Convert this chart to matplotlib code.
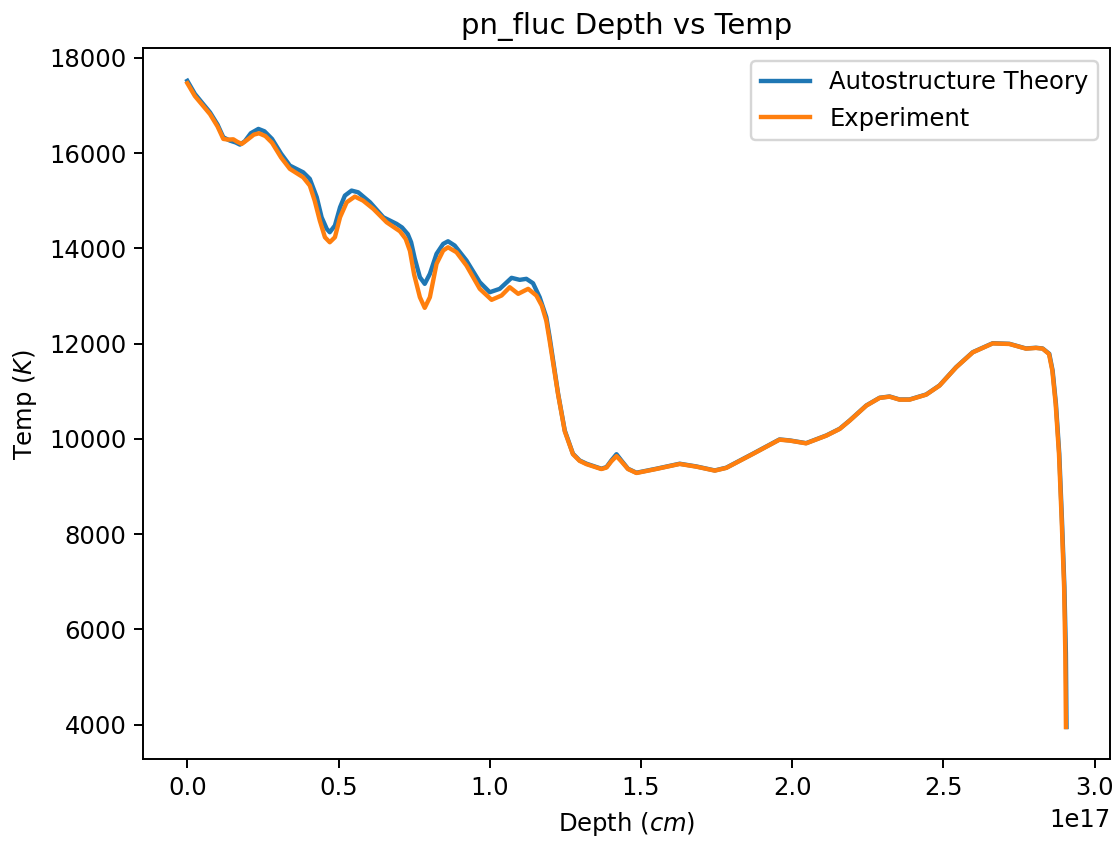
import matplotlib
matplotlib.use('Agg')
import matplotlib.pyplot as plt
import numpy as np

# Depth (units of 1e17 cm) and temperature (K)
theory_depth = [0.000, 0.025, 0.050, 0.075, 0.100, 0.119, 0.141, 0.160, 0.174,
                0.190, 0.210, 0.235, 0.255, 0.280, 0.310, 0.339, 0.383, 0.405,
                0.428, 0.444, 0.461, 0.471, 0.488, 0.505, 0.521, 0.543, 0.565,
                0.604, 0.648, 0.692, 0.710, 0.729, 0.740, 0.752, 0.769, 0.785,
                0.802, 0.824, 0.846, 0.862, 0.884, 0.923, 0.967, 1.000, 1.033,
                1.072, 1.099, 1.121, 1.143, 1.165, 1.187, 1.198, 1.226, 1.248,
                1.275, 1.297, 1.320, 1.369, 1.386, 1.402, 1.419, 1.435, 1.457,
                1.485, 1.551, 1.628, 1.683, 1.744, 1.782, 1.870, 1.958, 1.992,
                2.046, 2.113, 2.157, 2.190, 2.245, 2.289, 2.322, 2.355, 2.388,
                2.443, 2.487, 2.542, 2.597, 2.663, 2.718, 2.773, 2.806, 2.828,
                2.850, 2.861, 2.872, 2.883, 2.892, 2.900, 2.905, 2.907]
theory_temp = [17520, 17245, 17050, 16858, 16600, 16334, 16264, 16225, 16180,
               16250, 16420, 16510, 16460, 16300, 15990, 15740, 15599, 15461,
               15075, 14655, 14411, 14340, 14481, 14865, 15110, 15215, 15179,
               14970, 14655, 14516, 14440, 14300, 14130, 13790, 13396, 13257,
               13467, 13887, 14096, 14151, 14061, 13746, 13291, 13081, 13152,
               13383, 13341, 13362, 13270, 12976, 12556, 12136, 10949, 10178,
               9690, 9549, 9480, 9375, 9410, 9549, 9680, 9549, 9375,
               9291, 9375, 9480, 9423, 9339, 9396, 9690, 9990, 9969,
               9912, 10074, 10214, 10388, 10703, 10865, 10892, 10829, 10829,
               10934, 11123, 11507, 11822, 12010, 11998, 11900, 11915, 11900,
               11788, 11437, 10739, 9690, 8289, 6890, 5492, 3952]

exp_depth = [0.000, 0.025, 0.050, 0.075, 0.100, 0.119, 0.135, 0.152, 0.165,
             0.180, 0.200, 0.220, 0.237, 0.258, 0.280, 0.310, 0.339, 0.383,
             0.405, 0.421, 0.438, 0.455, 0.471, 0.488, 0.505, 0.527, 0.554,
             0.581, 0.615, 0.659, 0.703, 0.722, 0.736, 0.750, 0.769, 0.785,
             0.802, 0.824, 0.846, 0.862, 0.890, 0.923, 0.967, 1.006, 1.039,
             1.066, 1.094, 1.127, 1.154, 1.172, 1.187, 1.198, 1.226, 1.248,
             1.275, 1.297, 1.320, 1.369, 1.386, 1.402, 1.419, 1.435, 1.457,
             1.485, 1.551, 1.628, 1.683, 1.744, 1.782, 1.870, 1.958, 1.992,
             2.046, 2.113, 2.157, 2.190, 2.245, 2.289, 2.322, 2.355, 2.388,
             2.443, 2.487, 2.542, 2.597, 2.663, 2.718, 2.773, 2.806, 2.828,
             2.849, 2.860, 2.871, 2.882, 2.891, 2.899, 2.903, 2.905]
exp_temp = [17470, 17200, 17010, 16820, 16560, 16300, 16285, 16292, 16240,
            16195, 16290, 16390, 16418, 16360, 16220, 15910, 15671, 15494,
            15320, 15005, 14586, 14235, 14130, 14235, 14655, 14970, 15089,
            15005, 14831, 14550, 14360, 14200, 13950, 13450, 12976, 12753,
            12976, 13677, 13956, 14025, 13920, 13641, 13152, 12921, 13012,
            13186, 13047, 13152, 13012, 12800, 12480, 12060, 10930, 10160,
            9680, 9540, 9470, 9368, 9400, 9530, 9640, 9530, 9368,
            9285, 9370, 9475, 9418, 9335, 9392, 9685, 9985, 9965,
            9908, 10070, 10210, 10384, 10700, 10862, 10888, 10825, 10825,
            10930, 11120, 11503, 11818, 12006, 11994, 11896, 11911, 11896,
            11784, 11437, 10739, 9690, 8289, 6890, 5492, 3952]

fig = plt.figure(figsize=(1120 / 175, 842 / 175), dpi=175)
ax = fig.add_axes([0.128, 0.0982, 0.8635, 0.8442])

ax.plot(np.array(theory_depth) * 1e17, theory_temp, color='#1f77b4',
        lw=1.8, label='Autostructure Theory')
ax.plot(np.array(exp_depth) * 1e17, exp_temp, color='#ff7f0e',
        lw=1.8, label='Experiment')

ax.set_title('pn_fluc Depth vs Temp', fontsize=12)
ax.set_xlabel('Depth ($cm$)')
ax.set_ylabel('Temp ($K$)')
ax.legend(loc='upper right')

plt.savefig('out.png', dpi=175)
